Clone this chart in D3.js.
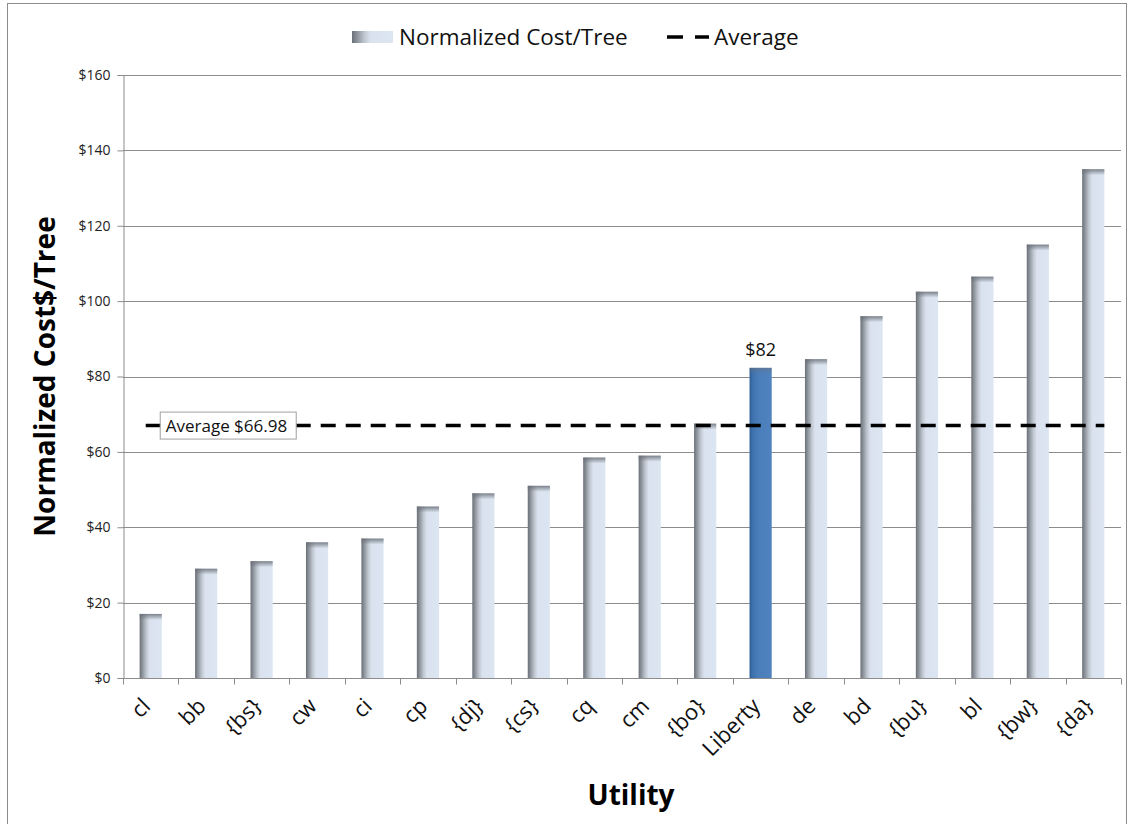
<!DOCTYPE html>
<html lang="en">
<head>
    <meta charset="UTF-8">
    <title>Normalized Cost/Tree</title>
    <style>
        body { margin: 0; background: #fff; }
        svg { display: block; font-family: "Open Sans", Lato, sans-serif; }
    </style>
</head>
<body>
    <div id="chart"></div>
    <script src="https://d3js.org/d3.v7.min.js"></script>
    <script>
        const categories = ["cl", "bb", "{bs}", "cw", "ci", "cp", "{dj}", "{cs}", "cq", "cm",
            "{bo}", "Liberty", "de", "bd", "{bu}", "bl", "{bw}", "{da}"];
        const costs = [17, 29, 31, 36, 37, 45.5, 49, 51, 58.5, 59,
            67.5, 82.3, 84.6, 96, 102.5, 106.5, 115, 135];
        const averageValue = 66.98;
        const highlighted = "Liberty";
        const yTicks = [0, 20, 40, 60, 80, 100, 120, 140, 160];

        const width = 1135;
        const height = 824;
        const margin = { top: 75, right: 14, bottom: 146, left: 123 };

        const svg = d3.select("#chart").append("svg")
            .attr("width", width)
            .attr("height", height);

        // gradients for the bars
        const defs = svg.append("defs");
        const grayGrad = defs.append("linearGradient").attr("id", "barGray")
            .attr("x1", "0%").attr("x2", "100%").attr("y1", "0%").attr("y2", "0%");
        [["0%", "#6b7078"], ["12%", "#8c929a"], ["30%", "#bfc6cf"], ["45%", "#d9e2ee"], ["100%", "#dce6f2"]]
            .forEach(s => grayGrad.append("stop").attr("offset", s[0]).attr("stop-color", s[1]));
        const blueGrad = defs.append("linearGradient").attr("id", "barBlue")
            .attr("x1", "0%").attr("x2", "100%").attr("y1", "0%").attr("y2", "0%");
        [["0%", "#2f5e96"], ["15%", "#3f72ad"], ["40%", "#4a7ebb"], ["100%", "#4f82be"]]
            .forEach(s => blueGrad.append("stop").attr("offset", s[0]).attr("stop-color", s[1]));
        const topShade = defs.append("linearGradient").attr("id", "topShade")
            .attr("x1", "0%").attr("x2", "0%").attr("y1", "0%").attr("y2", "100%");
        [["0%", "#6b7078", 0.85], ["100%", "#6b7078", 0]]
            .forEach(s => topShade.append("stop").attr("offset", s[0]).attr("stop-color", s[1]).attr("stop-opacity", s[2]));

        // outer chart border
        svg.append("rect")
            .attr("x", 7.5).attr("y", 3.5)
            .attr("width", 1119).attr("height", 830)
            .attr("fill", "none").attr("stroke", "#8c8c8c");

        const x = d3.scaleBand()
            .domain(categories)
            .range([margin.left, width - margin.right])
            .paddingInner(0.6)
            .paddingOuter(0.3);

        const y = d3.scaleLinear()
            .domain([0, 160])
            .range([height - margin.bottom, margin.top]);

        // gridlines
        svg.append("g")
            .selectAll("line")
            .data(yTicks.filter(d => d > 0))
            .join("line")
            .attr("x1", margin.left).attr("x2", width - margin.right)
            .attr("y1", d => Math.round(y(d)) + 0.5).attr("y2", d => Math.round(y(d)) + 0.5)
            .attr("stroke", "#8c8c8c");

        // y axis
        const yAxis = svg.append("g")
            .attr("transform", `translate(${margin.left + 0.5},0)`)
            .call(d3.axisLeft(y).tickValues(yTicks).tickSize(6).tickPadding(7).tickFormat(d => "$" + d));
        yAxis.select(".domain").attr("stroke", "#8c8c8c");
        yAxis.selectAll(".tick line").attr("stroke", "#8c8c8c");
        yAxis.selectAll("text").attr("font-size", 14).attr("fill", "#222").attr("font-family", "Open Sans");

        // bars
        const bars = svg.append("g")
            .selectAll("g")
            .data(categories.map((c, i) => ({ name: c, value: costs[i] })))
            .join("g");

        bars.append("rect")
            .attr("x", d => x(d.name))
            .attr("y", d => y(d.value))
            .attr("width", x.bandwidth())
            .attr("height", d => y(0) - y(d.value))
            .attr("fill", d => d.name === highlighted ? "url(#barBlue)" : "url(#barGray)");

        bars.append("rect")
            .attr("x", d => x(d.name))
            .attr("y", d => y(d.value))
            .attr("width", x.bandwidth())
            .attr("height", 6)
            .attr("fill", "url(#topShade)")
            .attr("opacity", d => d.name === highlighted ? 0.6 : 1);

        // x axis
        const xAxis = svg.append("g")
            .attr("transform", `translate(0,${Math.round(y(0)) + 0.5})`);
        xAxis.append("line")
            .attr("x1", margin.left).attr("x2", width - margin.right)
            .attr("stroke", "#8c8c8c");
        const step = x.step();
        const tickXs = categories.map(c => x(c) + x.bandwidth() / 2 - step / 2).concat([width - margin.right]);
        xAxis.selectAll(".xtick")
            .data(tickXs)
            .join("line")
            .attr("class", "xtick")
            .attr("x1", d => Math.round(d) + 0.5).attr("x2", d => Math.round(d) + 0.5)
            .attr("y1", 0).attr("y2", 6)
            .attr("stroke", "#8c8c8c");
        xAxis.selectAll(".xlabel")
            .data(categories)
            .join("text")
            .attr("class", "xlabel")
            .attr("text-anchor", "end")
            .attr("font-size", 22)
            .attr("fill", "#111")
            .attr("transform", d => `translate(${x(d) + x.bandwidth() / 2 + 1},${29}) rotate(-45)`)
            .text(d => d);

        // value label on highlighted bar
        const hiIdx = categories.indexOf(highlighted);
        svg.append("text")
            .attr("x", x(highlighted) + x.bandwidth() / 2)
            .attr("y", y(costs[hiIdx]) - 12)
            .attr("text-anchor", "middle")
            .attr("font-size", 18)
            .attr("fill", "#111")
            .text("$" + Math.round(costs[hiIdx]));

        // average line
        const avgY = y(averageValue);
        svg.append("line")
            .attr("x1", x(categories[0]) + x.bandwidth() / 2 - 5)
            .attr("x2", x(categories[categories.length - 1]) + x.bandwidth())
            .attr("y1", avgY).attr("y2", avgY)
            .attr("stroke", "#000")
            .attr("stroke-width", 3.5)
            .attr("stroke-dasharray", "15,10");

        const avgLabel = svg.append("g")
            .attr("transform", `translate(${x(categories[0]) + x.bandwidth() / 2 + 9},${avgY})`);
        avgLabel.append("rect")
            .attr("x", 0.5).attr("y", -13.5)
            .attr("width", 136).attr("height", 27)
            .attr("fill", "#fff").attr("stroke", "#a0a0a0");
        avgLabel.append("text")
            .attr("x", 6).attr("y", 6)
            .attr("font-size", 17)
            .attr("fill", "#111")
            .text("Average $" + averageValue.toFixed(2));

        // axis titles
        svg.append("text")
            .attr("transform", `translate(55,${(y(0) + y(160)) / 2}) rotate(-90)`)
            .attr("text-anchor", "middle")
            .attr("font-size", 28)
            .attr("font-weight", "bold")
            .attr("fill", "#000")
            .text("Normalized Cost$/Tree");

        svg.append("text")
            .attr("x", 631)
            .attr("y", 805)
            .attr("text-anchor", "middle")
            .attr("font-size", 28)
            .attr("font-weight", "bold")
            .attr("fill", "#000")
            .text("Utility");

        // legend
        const legend = svg.append("g").attr("transform", "translate(352,37)");
        legend.append("rect")
            .attr("x", 0).attr("y", -6)
            .attr("width", 41).attr("height", 12)
            .attr("fill", "url(#barGray)");
        legend.append("text")
            .attr("x", 47).attr("y", 8)
            .attr("font-size", 22.5)
            .attr("fill", "#111")
            .text("Normalized Cost/Tree");
        legend.append("line")
            .attr("x1", 315).attr("x2", 357)
            .attr("y1", 0).attr("y2", 0)
            .attr("stroke", "#000")
            .attr("stroke-width", 3.5)
            .attr("stroke-dasharray", "16,12");
        legend.append("text")
            .attr("x", 362).attr("y", 8)
            .attr("font-size", 22.5)
            .attr("fill", "#111")
            .text("Average");
    </script>
</body>
</html>
